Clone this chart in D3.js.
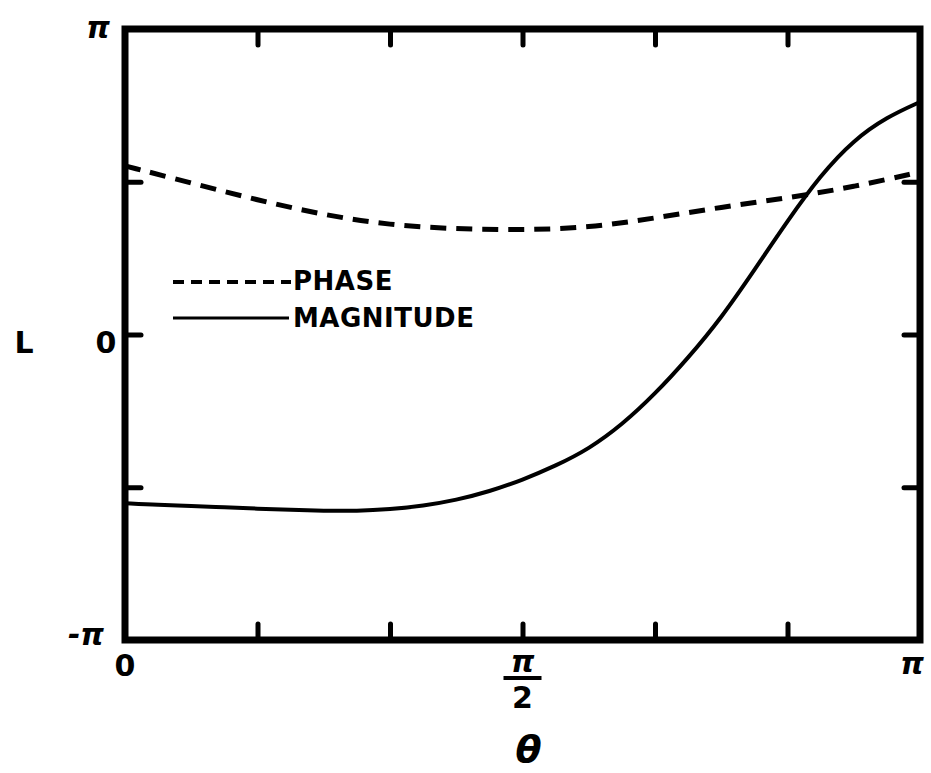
<!DOCTYPE html>
<html>
<head>
<meta charset="utf-8">
<script src="https://cdn.jsdelivr.net/npm/d3@7"></script>
<style>
  body { margin: 0; background: #fff; }
  text { font-family: "DejaVu Sans", sans-serif; font-weight: bold; fill: #000; }
</style>
</head>
<body>
<div id="chart"></div>
<script>
// theta and L are both in units of pi
var phaseTheta = [0, 1/12, 2/12, 3/12, 4/12, 5/12, 6/12, 7/12, 8/12, 9/12, 10/12, 11/12, 1];
var phase = [0.552, 0.496, 0.440, 0.391, 0.358, 0.345, 0.342, 0.349, 0.381, 0.417, 0.447, 0.483, 0.532];
var magTheta = [0, 1/24, 2/24, 3/24, 4/24, 5/24, 6/24, 7/24, 8/24, 9/24, 10/24, 11/24, 12/24,
                13/24, 14/24, 15/24, 16/24, 17/24, 18/24, 19/24, 20/24, 21/24, 22/24, 23/24, 1];
var magnitude = [-0.552, -0.558, -0.561, -0.566, -0.570, -0.574, -0.577, -0.578, -0.572, -0.561, -0.542, -0.514, -0.476,
                 -0.430, -0.375, -0.296, -0.195, -0.077, 0.054, 0.211, 0.372, 0.522, 0.637, 0.712, 0.761];
var xTicks = [1/6, 2/6, 3/6, 4/6, 5/6];
var yTicks = [-0.5, 0, 0.5];

var W = 931, H = 773;
var margin = {top: 29, right: 11, bottom: 133, left: 125},
    width = W - margin.left - margin.right,
    height = H - margin.top - margin.bottom;

var svg = d3.select("#chart").append("svg")
    .attr("width", W)
    .attr("height", H);

var g = svg.append("g").attr("transform", "translate(" + margin.left + "," + margin.top + ")");

var x = d3.scaleLinear().domain([0, 1]).range([0, width]);
var y = d3.scaleLinear().domain([-1, 1]).range([height, 0]);

// ticks on all four sides, pointing in
function tickStyle(sel) {
    sel.select(".domain").remove();
    sel.selectAll(".tick line").attr("stroke", "#000").attr("stroke-width", 5).attr("stroke-linecap", "round");
}
g.append("g").attr("transform", "translate(0," + height + ")")
    .call(d3.axisBottom(x).tickValues(xTicks).tickSize(-16).tickFormat(""))
    .call(tickStyle);
g.append("g")
    .call(d3.axisTop(x).tickValues(xTicks).tickSize(-16).tickFormat(""))
    .call(tickStyle);
g.append("g")
    .call(d3.axisLeft(y).tickValues(yTicks).tickSize(-16).tickFormat(""))
    .call(tickStyle);
g.append("g").attr("transform", "translate(" + width + ",0)")
    .call(d3.axisRight(y).tickValues(yTicks).tickSize(-16).tickFormat(""))
    .call(tickStyle);

// curves
function curveFor(ts) {
    return d3.line().curve(d3.curveBasis)
        .x(function(d, i) { return x(ts[i]); })
        .y(function(d) { return y(d); });
}

g.append("path").datum(phase)
    .attr("d", curveFor(phaseTheta))
    .attr("fill", "none").attr("stroke", "#000")
    .attr("stroke-width", 5).attr("stroke-dasharray", "16,10");

g.append("path").datum(magnitude)
    .attr("d", curveFor(magTheta))
    .attr("fill", "none").attr("stroke", "#000")
    .attr("stroke-width", 4);

// frame
g.append("rect")
    .attr("width", width).attr("height", height)
    .attr("fill", "none").attr("stroke", "#000").attr("stroke-width", 7);

// legend
g.append("line").attr("x1", 48).attr("x2", 166).attr("y1", 253).attr("y2", 253)
    .attr("stroke", "#000").attr("stroke-width", 4).attr("stroke-dasharray", "11,7");
g.append("text").attr("x", 168).attr("y", 261).attr("font-size", 26).attr("letter-spacing", 0.5).text("PHASE");
g.append("line").attr("x1", 48).attr("x2", 164).attr("y1", 289).attr("y2", 289)
    .attr("stroke", "#000").attr("stroke-width", 3);
g.append("text").attr("x", 168).attr("y", 298).attr("font-size", 26).attr("letter-spacing", 0.5).text("MAGNITUDE");

// tick labels
var lab = svg.append("g").attr("font-size", 30);
lab.append("text").attr("x", 98).attr("y", 38).attr("text-anchor", "middle").attr("font-style", "italic").text("π");
lab.append("text").attr("x", 86).attr("y", 645).attr("text-anchor", "middle").attr("font-style", "italic").text("-π");
lab.append("text").attr("x", 106).attr("y", 353).attr("text-anchor", "middle").attr("font-weight", "normal").text("0");
lab.append("text").attr("x", 24).attr("y", 353).attr("text-anchor", "middle").attr("font-weight", "normal").text("L");
lab.append("text").attr("x", margin.left + x(0)).attr("y", 676).attr("text-anchor", "middle").attr("font-weight", "normal").text("0");
lab.append("text").attr("x", margin.left + x(0.5)).attr("y", 672).attr("text-anchor", "middle").attr("font-style", "italic").text("π");
lab.append("line").attr("x1", margin.left + x(0.5) - 19).attr("x2", margin.left + x(0.5) + 19)
    .attr("y1", 678).attr("y2", 678).attr("stroke", "#000").attr("stroke-width", 4);
lab.append("text").attr("x", margin.left + x(0.5)).attr("y", 708).attr("text-anchor", "middle").text("2");
lab.append("text").attr("x", margin.left + x(1) - 8).attr("y", 674).attr("text-anchor", "middle").attr("font-style", "italic").text("π");
lab.append("text").attr("x", margin.left + x(0.5) + 6).attr("y", 762).attr("text-anchor", "middle")
    .attr("font-size", 38).attr("font-weight", "normal").attr("font-style", "italic").text("θ");
</script>
</body>
</html>
